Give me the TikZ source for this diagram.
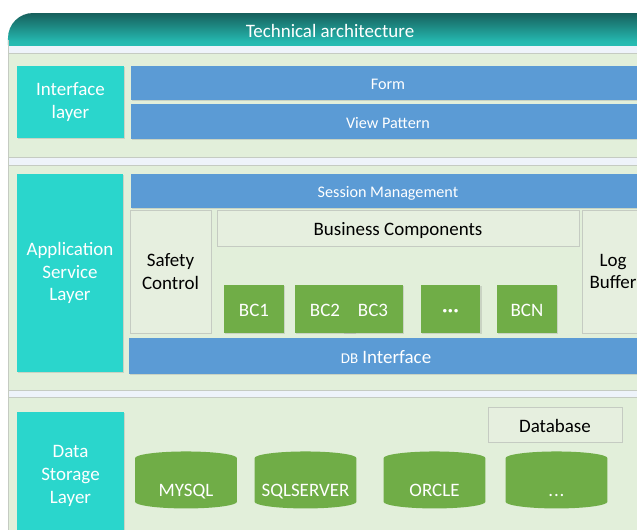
\documentclass[tikz,border=0pt]{standalone}
\usepackage{fontspec}
\setmainfont{Carlito}
\usetikzlibrary{positioning, shapes.geometric, shadows}

\definecolor{tealbox}{HTML}{2AD6CC}
\definecolor{tealdark}{HTML}{17605C}
\definecolor{barblue}{HTML}{5B9BD5}
\definecolor{bcgreen}{HTML}{70AD47}
\definecolor{bandgreen}{HTML}{E2EFDA}
\definecolor{lightfill}{HTML}{E6EFDF}
\definecolor{stripblue}{HTML}{EEF3FA}
\definecolor{edgegray}{HTML}{C5CBC2}

\newcommand{\threedots}{.\kern0.5pt.\kern0.5pt.}
\newcommand{\middots}{{\bfseries\char"00B7\kern0.3pt\char"00B7\kern0.3pt\char"00B7}}

\tikzset{
  bigtext/.style={font=\fontsize{10.8}{13}\selectfont},
  smalltext/.style={font=\fontsize{9.2}{11}\selectfont},
  oneline/.style={text height=8.7pt, text depth=0pt},
  softshadow/.style={drop shadow={shadow xshift=0.6pt, shadow yshift=-0.6pt, opacity=0.25}},
  layerbox/.style={fill=tealbox, text=white, bigtext, align=center, minimum width=2.14cm, inner sep=0pt, softshadow},
  barbox/.style={fill=barblue, text=white, smalltext, text height=7.4pt, text depth=0pt, minimum width=10.3cm, minimum height=0.68cm, inner sep=0pt, softshadow},
  lightbox/.style={fill=lightfill, draw=edgegray, bigtext, align=center, inner sep=0pt, softshadow},
  bcbox/.style={fill=bcgreen, text=white, bigtext, oneline, minimum width=1.2cm, minimum height=0.96cm, inner sep=0pt, softshadow},
  dbcyl/.style={cylinder, shape border rotate=90, aspect=0.3, fill=bcgreen, text=white, bigtext, minimum width=2.04cm, minimum height=1.14cm, inner sep=0pt, text height=15pt, text depth=0pt},
}

\begin{document}
\begin{tikzpicture}[x=0.02cm, y=-0.02cm]
  \useasboundingbox (0,0) rectangle (637,529);
  \clip (0,0) rectangle (637,529);

  % Frame and bands
  \shade[top color=tealdark, bottom color=tealbox, middle color=tealbox!75!tealdark, rounded corners=0.5cm] (8,13) rectangle (680,70);
  \fill[stripblue] (8,46) rectangle (680,540);
  \draw[edgegray] (8,40) -- (8,540);
  \foreach \top/\bot in {53/157, 165/390, 397/545}
    \filldraw[fill=bandgreen, draw=edgegray] (8,\top) rectangle (680,\bot);
  \node[text=white, bigtext, oneline] (title) at (330,30) {Technical architecture};

  % Interface layer
  \node[layerbox, minimum height=1.44cm] (intf) at (70.5,102) {Interface\\layer};
  \node[barbox] (form) at (388,83) {Form};
  \node[barbox, minimum height=0.7cm] (view) at (388,121.5) {View Pattern};

  % Application service layer
  \node[layerbox, minimum width=2.12cm, minimum height=3.96cm] (app) at (70,273) {Application\\Service\\Layer};
  \node[barbox] (sess) at (388,191) {Session Management};
  \node[lightbox, minimum width=1.62cm, minimum height=2.46cm] (safety) at (170.5,271.5) {Safety\\Control};
  \node[lightbox, oneline, minimum width=7.24cm, minimum height=0.72cm] (bcomp) at (398,228) {Business Components};
  \node[lightbox, minimum width=1.24cm, minimum height=2.46cm] (logbuf) at (613,271.5) {Log\\Buffer};
  \foreach \name/\cx/\txt in {bc1/254/BC1, bc2/325/BC2, bc3/373/BC3, bcdots/450.5/\middots, bcn/527/BCN}
    \node[bcbox] (\name) at (\cx,309) {\txt};
  \node[barbox, bigtext, oneline, minimum height=0.72cm] (dbi) at (386,356) {{\fontsize{8.5}{10}\selectfont DB} Interface};

  % Data storage layer
  \node[layerbox, minimum height=2.56cm] (data) at (70.5,476) {Data\\Storage\\Layer};
  \node[lightbox, oneline, minimum width=2.68cm, minimum height=0.7cm] (database) at (555,424.5) {Database};
  \foreach \name/\cx/\txt in {mysql/186/MYSQL, sqlserver/305.5/SQLSERVER, orcle/434.5/ORCLE, dbdots/556.5/\threedots}
    \node[dbcyl] (\name) at (\cx,483.5) {\makebox[0.9cm]{\txt}};
\end{tikzpicture}
\end{document}
